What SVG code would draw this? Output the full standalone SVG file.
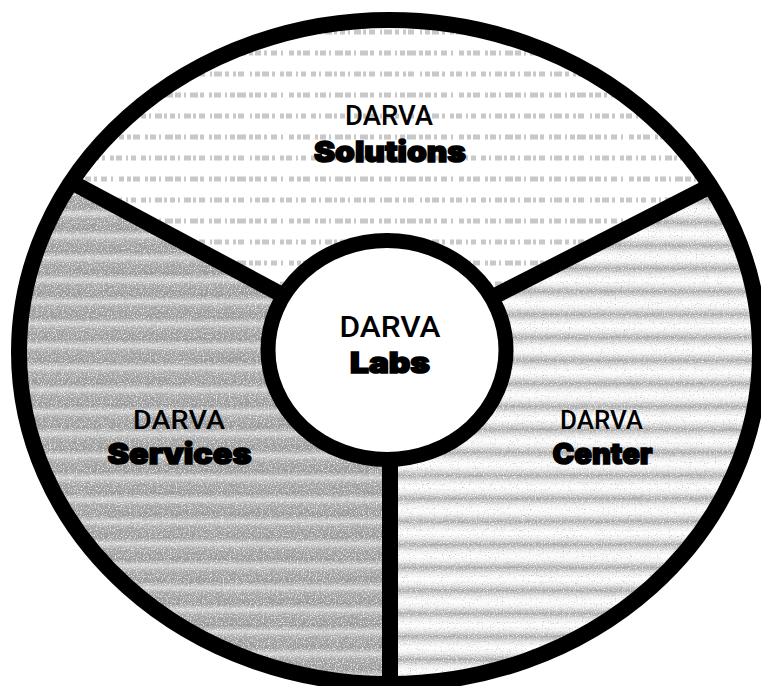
<svg xmlns="http://www.w3.org/2000/svg" width="761" height="686" viewBox="0 0 761 686">
  <style>
    .ring { fill: none; stroke: #000; stroke-width: 16; }
    .div { stroke: #000; stroke-width: 16; stroke-linecap: butt; fill: none; }
    .lbl { font-family: Roboto, "Liberation Sans", sans-serif; font-weight: 500; fill: #000; text-anchor: middle; }
    .bold { font-family: Inter, "Liberation Sans", sans-serif; font-weight: 900; fill: #000; text-anchor: middle; stroke: #000; stroke-width: 1.6; }
  </style>
  <defs>
    <linearGradient id="gRight" x1="0" y1="0" x2="0" y2="1">
      <stop offset="0" stop-color="#ffffff"/>
      <stop offset="0.22" stop-color="#f0f0f0"/>
      <stop offset="0.5" stop-color="#a8a8a8"/>
      <stop offset="0.78" stop-color="#eeeeee"/>
      <stop offset="1" stop-color="#ffffff"/>
    </linearGradient>
    <linearGradient id="gLeft" x1="0" y1="0" x2="0" y2="1">
      <stop offset="0" stop-color="#a0a0a0"/>
      <stop offset="0.35" stop-color="#999999"/>
      <stop offset="0.62" stop-color="#d2d2d2"/>
      <stop offset="0.85" stop-color="#a8a8a8"/>
      <stop offset="1" stop-color="#a0a0a0"/>
    </linearGradient>
    <pattern id="pRight" patternUnits="userSpaceOnUse" x="0" y="4" width="200" height="23">
      <rect width="200" height="23" fill="url(#gRight)"/>
    </pattern>
    <pattern id="pLeft" patternUnits="userSpaceOnUse" x="0" y="2" width="200" height="22">
      <rect width="200" height="22" fill="url(#gLeft)"/>
    </pattern>
    <pattern id="pTop" patternUnits="userSpaceOnUse" x="0" y="0" width="170" height="42">
      <rect width="170" height="42" fill="#fff"/>
      <line x1="0" y1="11" x2="170" y2="11" stroke="#c8c8c8" stroke-width="5" stroke-dasharray="3 2 6 3 2 4 8 2 4 5 3 2 7 4 2 3 5 2 9 3 4 2 6 3 3 4 6 4 2 6 5 3 4 2 7 5"/>
      <line x1="0" y1="32" x2="170" y2="32" stroke="#c8c8c8" stroke-width="5" stroke-dasharray="5 3 2 4 7 2 3 3 6 5 2 2 8 3 4 4 3 2 6 6 2 3 5 2 7 3 3 5 4 2 6 4 2 3 5 5"/>
    </pattern>
    <filter id="grain" x="0" y="0" width="1" height="1">
      <feTurbulence type="fractalNoise" baseFrequency="0.85" numOctaves="2" seed="3" result="n"/>
      <feColorMatrix in="n" type="matrix" values="0 0 0 0 1  0 0 0 0 1  0 0 0 0 1  2.6 0 0 0 -1.25" result="w"/>
      <feColorMatrix in="n" type="matrix" values="0 0 0 0 0.35  0 0 0 0 0.35  0 0 0 0 0.35  0 -2.6 0 0 1.1" result="k"/>
      <feComposite in="w" in2="SourceAlpha" operator="in" result="w2"/>
      <feComposite in="k" in2="SourceAlpha" operator="in" result="k2"/>
      <feMerge>
        <feMergeNode in="SourceGraphic"/>
        <feMergeNode in="w2"/>
        <feMergeNode in="k2"/>
      </feMerge>
    </filter>
  </defs>

  <g id="solutions">
    <path d="M387,351 L71.3,182 A370.5,332 0 0 1 710.4,186 Z" fill="url(#pTop)"/>
    <text class="lbl" x="389" y="125" font-size="27.5">DARVA</text>
    <text class="bold" x="390" y="162" font-size="29" textLength="152" lengthAdjust="spacingAndGlyphs">Solutions</text>
  </g>

  <g id="center">
    <path d="M387,351 L710.4,186 A370.5,332 0 0 1 390,684 Z" fill="url(#pRight)" filter="url(#grain)"/>
    <text class="lbl" x="601.5" y="429" font-size="26" textLength="83" lengthAdjust="spacingAndGlyphs">DARVA</text>
    <text class="bold" x="602.5" y="464" font-size="29" textLength="100" lengthAdjust="spacingAndGlyphs">Center</text>
  </g>

  <g id="services">
    <path d="M387,351 L390,684 A370.5,332 0 0 1 71.3,182 Z" fill="url(#pLeft)" filter="url(#grain)"/>
    <text class="lbl" x="179" y="429" font-size="26" textLength="92" lengthAdjust="spacingAndGlyphs">DARVA</text>
    <text class="bold" x="179.5" y="464" font-size="29" textLength="144" lengthAdjust="spacingAndGlyphs">Services</text>
  </g>

  <g id="dividers">
    <line class="div" x1="387" y1="351" x2="71.3" y2="182"/>
    <line class="div" x1="387" y1="351" x2="710.4" y2="186"/>
    <line class="div" x1="390" y1="351" x2="390" y2="684"/>
  </g>

  <ellipse id="outer-ring" class="ring" cx="389.5" cy="352" rx="370.5" ry="332"/>

  <g id="labs">
    <ellipse cx="387" cy="350" rx="119" ry="109.5" fill="#fff" stroke="#000" stroke-width="15"/>
    <text class="lbl" x="390" y="337" font-size="30" textLength="101" lengthAdjust="spacingAndGlyphs">DARVA</text>
    <text class="bold" x="390" y="373" font-size="29" textLength="80" lengthAdjust="spacingAndGlyphs">Labs</text>
  </g>
</svg>
